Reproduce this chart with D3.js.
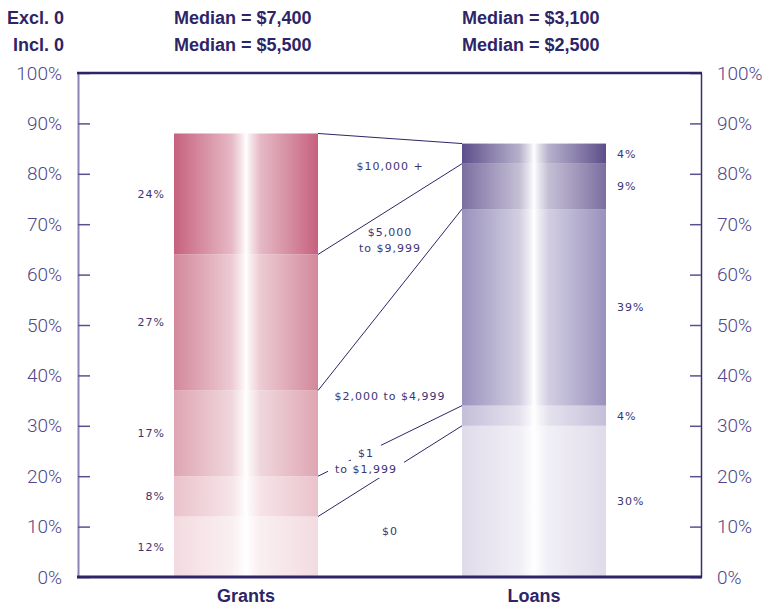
<!DOCTYPE html>
<html>
<head>
<meta charset="utf-8">
<script src="https://cdn.jsdelivr.net/npm/d3@7/dist/d3.min.js"></script>
<style>
  html, body { margin: 0; padding: 0; background: #fff; }
  svg { display: block; }
  .hdr { font-family: "Liberation Sans", Arial, sans-serif; font-weight: bold; font-size: 18px; fill: #2e2566; }
  .tick text { font-family: Roboto, "Open Sans", sans-serif; font-weight: 300; font-size: 19px; fill: #4f4788; }
  .small { font-family: "DejaVu Sans", sans-serif; font-size: 11px; letter-spacing: 1px; fill: #3d3472; }
  .cat { font-family: "Liberation Sans", Arial, sans-serif; font-weight: bold; font-size: 18px; fill: #2e2566; }
</style>
</head>
<body>
<svg id="chart" width="762" height="606"></svg>
<script>
// ---- data ----
const categories = ["Grants", "Loans"];
const brackets = ["$0", "$1 to $1,999", "$2,000 to $4,999", "$5,000 to $9,999", "$10,000 +"];
const grantShares = [12, 8, 17, 27, 24];   // percent of students, bottom to top
const loanShares = [30, 4, 39, 9, 4];
const medianExcl = ["$7,400", "$3,100"];
const medianIncl = ["$5,500", "$2,500"];
const rowLabels = ["Excl. 0", "Incl. 0"];
const yTicks = [0, 10, 20, 30, 40, 50, 60, 70, 80, 90, 100];

// ---- presentation ----
const grantColors = ["#f2dbe0", "#eac2cb", "#dea5b2", "#d3889b", "#c6617e"];
const loanColors = ["#e0dbea", "#c5bed8", "#9a91bd", "#7b6ea0", "#5c4e8a"];
// bracket captions between the bars: line breaks, horizontal nudge, vertical centre (percent),
// and whether the caption knocks out the connector lines crossing it
const bracketLayout = [
  { lines: ["$0"], dx: 0, at: 9.2, knockout: false },
  { lines: ["$1", "to $1,999"], dx: -24, at: 23.0, knockout: true },
  { lines: ["$2,000 to $4,999"], dx: 0, at: 36.0, knockout: false },
  { lines: ["$5,000", "to $9,999"], dx: 0, at: 66.9, knockout: false },
  { lines: ["$10,000 +"], dx: 0, at: 81.5, knockout: false }
];

const svg = d3.select("#chart");
const axisLeftX = 78, axisRightX = 701;
const y = d3.scaleLinear().domain([0, 100]).range([577, 73]);
const x = d3.scaleBand().domain(categories).range([102, 678]).paddingInner(0.5).paddingOuter(0.25);
const bw = x.bandwidth();

const series = { Grants: grantShares, Loans: loanShares };
const palettes = { Grants: grantColors, Loans: loanColors };

// stacked segments
function stackOf(vals) {
  let acc = 0;
  return vals.map((v, i) => { const s = { i, v, y0: acc, y1: acc + v }; acc += v; return s; });
}
const stacks = {};
categories.forEach(c => stacks[c] = stackOf(series[c]));

// horizontal "cylinder" gradients: strong at edges, white in the middle
const defs = svg.append("defs");
categories.forEach(c => {
  palettes[c].forEach((col, i) => {
    const mix = t => d3.interpolateRgb(col, "#ffffff")(t);
    const g = defs.append("linearGradient")
      .attr("id", `g-${c}-${i}`).attr("x1", "0").attr("x2", "1").attr("y1", "0").attr("y2", "0");
    [[0, 0], [0.2, 0.28], [0.4, 0.56], [0.47, 0.84], [0.5, 1], [0.53, 0.84], [0.6, 0.56], [0.8, 0.28], [1, 0]]
      .forEach(([o, t]) => g.append("stop").attr("offset", o).attr("stop-color", mix(t)));
  });
});

const bars = svg.append("g");
categories.forEach(c => {
  bars.selectAll(null).data(stacks[c]).enter().append("rect")
    .attr("x", x(c)).attr("width", bw)
    .attr("y", d => y(d.y1)).attr("height", d => y(d.y0) - y(d.y1))
    .attr("fill", d => `url(#g-${c}-${d.i})`);
});

// connectors between matching segment tops
const gx1 = x("Grants") + bw, lx0 = x("Loans");
svg.append("g").selectAll("line").data(brackets.map((b, i) => i)).enter().append("line")
  .attr("x1", gx1).attr("y1", i => y(stacks.Grants[i].y1))
  .attr("x2", lx0).attr("y2", i => y(stacks.Loans[i].y1))
  .attr("stroke", "#2e2566").attr("stroke-width", 1);

// bracket captions, each line on its own white backing where it sits over connectors
const mid = (gx1 + lx0) / 2;
const capG = svg.append("g");
bracketLayout.forEach(L => {
  const g = capG.append("g");
  const n = L.lines.length, lh = 16;
  const cy = y(L.at);
  L.lines.forEach((t, k) => {
    const bg = g.append("rect").attr("fill", "#fff");
    const tx = g.append("text").attr("class", "small").attr("text-anchor", "middle")
      .attr("x", mid + L.dx).attr("y", cy + (k - (n - 1) / 2) * lh).attr("dy", "0.36em")
      .text(t);
    if (L.knockout) {
      const bb = tx.node().getBBox();
      bg.attr("x", bb.x - 7).attr("y", bb.y - 2).attr("width", bb.width + 14).attr("height", bb.height + 4);
    }
  });
});

// segment percentages
svg.append("g").selectAll("text").data(stacks.Grants).enter().append("text")
  .attr("class", "small").attr("text-anchor", "end")
  .attr("x", x("Grants") - 9).attr("y", d => y((d.y0 + d.y1) / 2)).attr("dy", "0.36em")
  .text(d => d.v + "%");
svg.append("g").selectAll("text").data(stacks.Loans).enter().append("text")
  .attr("class", "small").attr("text-anchor", "start")
  .attr("x", x("Loans") + bw + 11).attr("y", d => y((d.y0 + d.y1) / 2)).attr("dy", "0.36em")
  .text(d => d.v + "%");

// axes
const fmt = d => d + "%";
const la = svg.append("g").attr("transform", `translate(${axisLeftX},0)`)
  .call(d3.axisLeft(y).tickValues(yTicks).tickFormat(fmt).tickSizeInner(-12).tickSizeOuter(0).tickPadding(16));
la.select(".domain").attr("stroke", "#8b83b5").attr("stroke-width", 2);
la.selectAll(".tick line").attr("stroke", "#5a5090").attr("stroke-width", 1.5);
const ra = svg.append("g").attr("transform", `translate(${axisRightX},0)`)
  .call(d3.axisRight(y).tickValues(yTicks).tickFormat(fmt).tickSizeInner(-11).tickSizeOuter(0).tickPadding(16));
ra.select(".domain").attr("stroke", "#3a2f6e").attr("stroke-width", 1.5);
ra.selectAll(".tick line").attr("stroke", "#5a5090").attr("stroke-width", 1.5);

// frame top and baseline
svg.append("line").attr("x1", axisLeftX - 1).attr("x2", axisRightX + 1).attr("y1", y(100)).attr("y2", y(100))
  .attr("stroke", "#2e2566").attr("stroke-width", 2.5);
svg.append("line").attr("x1", axisLeftX - 1).attr("x2", axisRightX + 1).attr("y1", y(0)).attr("y2", y(0))
  .attr("stroke", "#2e2566").attr("stroke-width", 3);

// category names
svg.append("g").selectAll("text").data(categories).enter().append("text")
  .attr("class", "cat").attr("text-anchor", "middle")
  .attr("x", c => x(c) + bw / 2).attr("y", 602).text(c => c);

// median header rows
const rowY = [24, 51];
rowLabels.forEach((t, r) => {
  svg.append("text").attr("class", "hdr").attr("text-anchor", "end")
    .attr("x", 64).attr("y", rowY[r]).text(t);
});
[medianExcl, medianIncl].forEach((row, r) => {
  categories.forEach((c, j) => {
    svg.append("text").attr("class", "hdr").attr("x", x(c)).attr("y", rowY[r])
      .text("Median = " + row[j]);
  });
});
</script>
</body>
</html>
